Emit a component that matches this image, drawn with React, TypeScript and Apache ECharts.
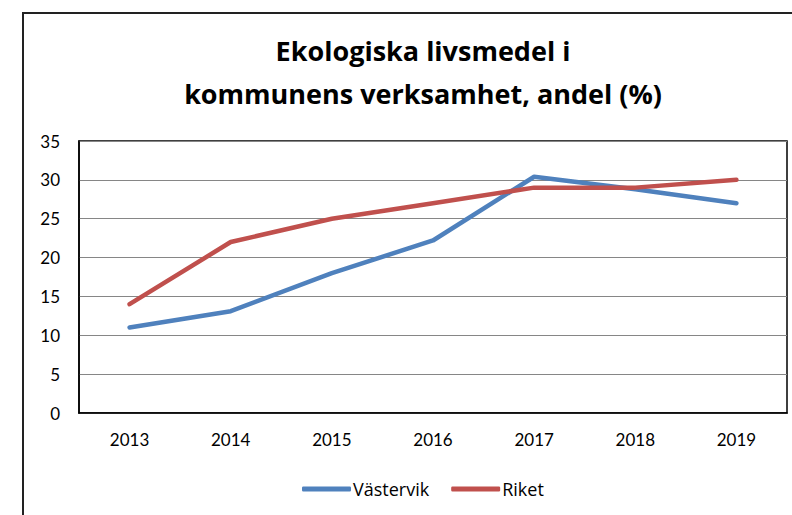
import React, { useEffect, useRef } from "react";
import * as echarts from "echarts";

const titleLines = ["Ekologiska livsmedel i", "kommunens verksamhet, andel (%)"];
const years = ["2013", "2014", "2015", "2016", "2017", "2018", "2019"];
const vastervik = [11, 13.1, 18, 22.2, 30.4, 28.8, 27];
const riket = [14, 22, 25, 27, 29, 29, 30];
const seriesNames = ["Västervik", "Riket"];
const seriesColors = ["#4F81BD", "#C0504D"];

export default function App() {
  const ref = useRef<HTMLDivElement>(null);
  useEffect(() => {
    if (!ref.current) return;
    const chart = echarts.init(ref.current, null, { renderer: "svg" });
    const font = "Lato, 'Open Sans', sans-serif";
    chart.setOption({
      animation: false,
      backgroundColor: "#ffffff",
      graphic: [
        {
          type: "rect",
          shape: { x: 23, y: 13, width: 900, height: 700 },
          style: { fill: "none", stroke: "#222", lineWidth: 2 },
          z: -1,
        },
      ],
      title: {
        text: titleLines.join("\n"),
        left: 418,
        textAlign: "center",
        top: 24,
        textStyle: {
          fontFamily: "'Open Sans', Lato, sans-serif",
          fontWeight: "bold",
          fontSize: 27,
          lineHeight: 43,
          color: "#000",
        },
      },
      legend: {
        data: seriesNames,
        left: 297,
        top: 475,
        icon: "roundRect",
        itemWidth: 49,
        itemHeight: 5,
        itemGap: 22,
        textStyle: { fontFamily: "'Open Sans', Lato, sans-serif", fontSize: 18, color: "#000", padding: [0, 0, 0, -3] },
      },
      grid: {
        left: 79,
        right: 5,
        top: 141,
        bottom: 102,
        show: true,
        borderColor: "#000",
        borderWidth: 1.5,
      },
      xAxis: {
        type: "category",
        data: years,
        boundaryGap: true,
        axisLine: { show: true, lineStyle: { color: "#000", width: 1.5 } },
        axisTick: { show: false },
        axisLabel: { fontFamily: font, fontSize: 17, color: "#000", margin: 18 },
      },
      yAxis: {
        type: "value",
        min: 0,
        max: 35,
        interval: 5,
        axisLine: { show: true, lineStyle: { color: "#000", width: 1.5 } },
        axisTick: { show: false },
        splitLine: { lineStyle: { color: "#868686", width: 1.2 } },
        axisLabel: { fontFamily: font, fontSize: 17, color: "#000", margin: 19 },
      },
      series: [
        {
          name: seriesNames[0],
          type: "line",
          data: vastervik,
          symbol: "none",
          color: seriesColors[0],
          lineStyle: { width: 4.5, color: seriesColors[0], cap: "round", join: "round" },
        },
        {
          name: seriesNames[1],
          type: "line",
          data: riket,
          symbol: "none",
          color: seriesColors[1],
          lineStyle: { width: 4.5, color: seriesColors[1], cap: "round", join: "round" },
        },
      ],
    });
    return () => chart.dispose();
  }, []);
  return (
    <div
      ref={ref}
      style={{ position: "fixed", left: 0, top: 0, width: 792, height: 515 }}
    />
  );
}
